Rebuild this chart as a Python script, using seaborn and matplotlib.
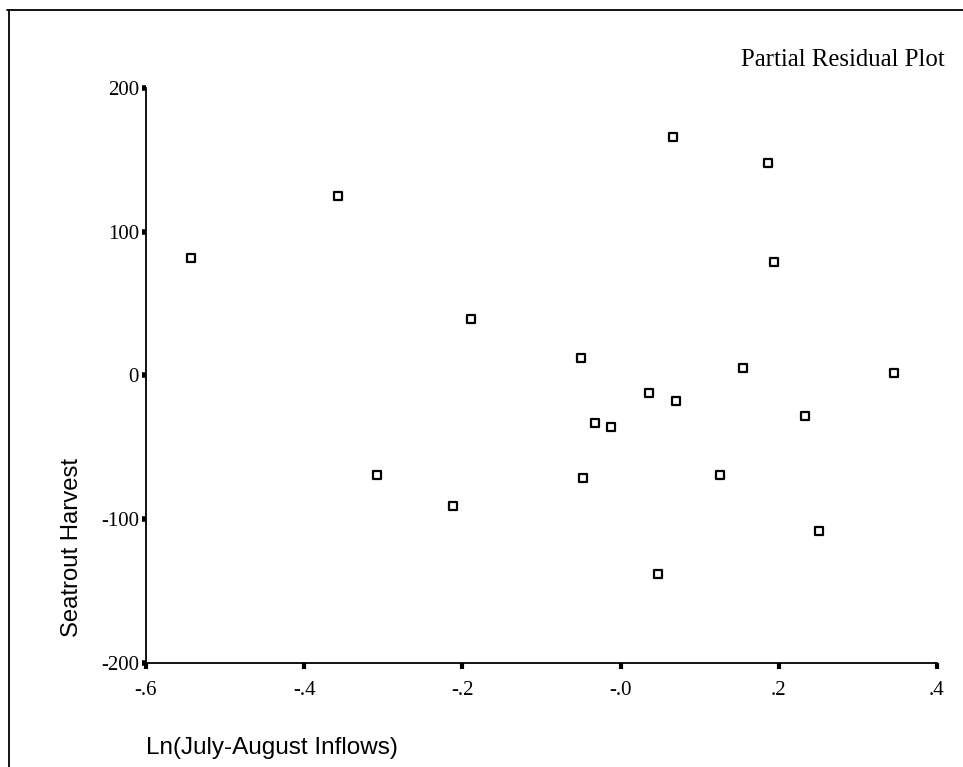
import matplotlib
matplotlib.use("Agg")
import matplotlib.pyplot as plt
from matplotlib.lines import Line2D
import seaborn as sns

inflow = [-0.543, -0.357, -0.189, -0.308, -0.212, -0.050, -0.048, -0.032, -0.012, 0.036,
          0.066, 0.070, 0.047, 0.126, 0.155, 0.186, 0.194, 0.233, 0.251, 0.346]
harvest = [82, 125, 39, -69, -91, 12, -71, -33, -36, -12,
           166, -18, -138, -69, 5, 148, 79, -28, -108, 2]
xticks = [-0.6, -0.4, -0.2, 0.0, 0.2, 0.4]
xtick_labels = ['-.6', '-.4', '-.2', '-.0', '.2', '.4']
yticks = [-200, -100, 0, 100, 200]
ytick_labels = ['-200', '-100', '0', '100', '200']

sns.set_style('ticks')
plt.rcParams['text.color'] = 'black'
plt.rcParams['axes.labelcolor'] = 'black'
plt.rcParams['xtick.color'] = 'black'
plt.rcParams['ytick.color'] = 'black'
serif = ['Liberation Serif', 'DejaVu Serif']
sans = ['Liberation Sans', 'DejaVu Sans']

fig = plt.figure(figsize=(9.63, 7.67), dpi=100)
ax = fig.add_axes([0.1516, 0.1356, 0.8214, 0.7497])

sns.scatterplot(x=inflow, y=harvest, marker='s', s=40, facecolor='white',
                edgecolor='black', linewidth=1.6, ax=ax, clip_on=False)

ax.set_xlim(-0.6, 0.4)
ax.set_ylim(-200, 200)
ax.set_xticks(xticks)
ax.set_xticklabels(xtick_labels, family=serif, fontsize=15)
ax.set_yticks(yticks)
ax.set_yticklabels(ytick_labels, family=serif, fontsize=15)
ax.tick_params(axis='x', direction='out', length=4, width=3, pad=9)
ax.tick_params(axis='y', direction='out', length=3, width=4, pad=2)
for s in ['top', 'right']:
    ax.spines[s].set_visible(False)
for s in ['left', 'bottom']:
    ax.spines[s].set_linewidth(1.3)
    ax.spines[s].set_color('black')

ax.set_xlabel('Ln(July-August Inflows)', family=sans, fontsize=17.5, loc='left')
ax.xaxis.set_label_coords(0.0, -0.148)
ax.xaxis.label.set_va('center')
ax.set_ylabel('Seatrout Harvest', family=sans, fontsize=17.2)
ax.yaxis.set_label_coords(-0.094, 0.2)
ax.yaxis.label.set_va('center')

ax.text(1.01, 1.049, 'Partial Residual Plot', transform=ax.transAxes,
        ha='right', va='center', family=serif, fontsize=17.8)

# page frame
fig.add_artist(Line2D([0.007, 1.0], [0.987, 0.987], color='black', lw=1.3))
fig.add_artist(Line2D([0.009, 0.009], [0.0, 0.987], color='black', lw=1.3))

fig.savefig('out.png', dpi=100)
